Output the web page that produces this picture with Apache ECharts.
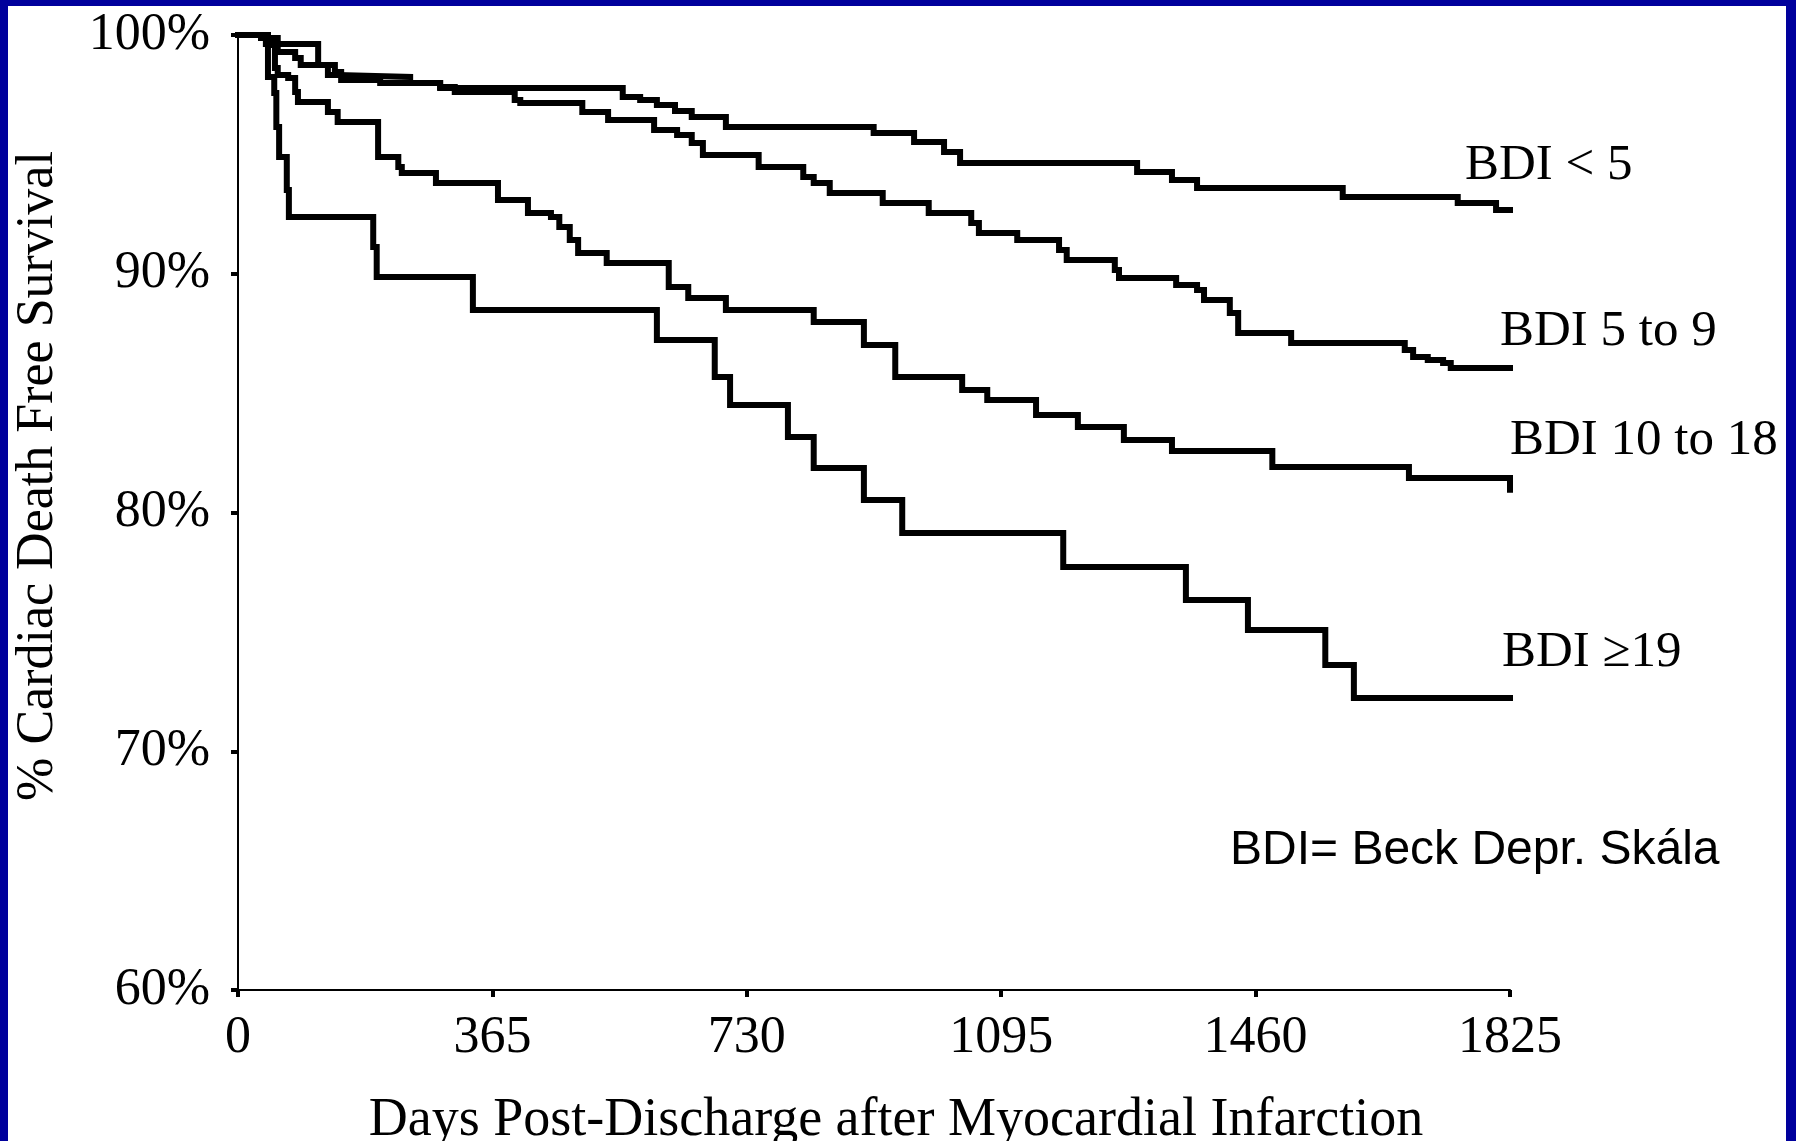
<!DOCTYPE html>
<html>
<head>
<meta charset="utf-8">
<script src="https://cdn.jsdelivr.net/npm/echarts@6/dist/echarts.min.js"></script>
<style>
  html, body { margin: 0; padding: 0; background: #00009C; width: 1796px; height: 1141px; overflow: hidden; }
  #chart { position: absolute; left: 8px; top: 6px; width: 1778px; height: 1135px; background: #fff; }
</style>
</head>
<body>
<div id="chart"></div>
<script>
// ---- Data ----
const xTicks = [0, 365, 730, 1095, 1460, 1825];
const yTicks = [60, 70, 80, 90, 100];

const seriesNames = ['BDI < 5', 'BDI 5 to 9', 'BDI 10 to 18', 'BDI \u226519'];

const daysLt5 = [0, 40, 115, 129, 143, 247, 290, 552, 577, 601, 627, 651, 700, 912, 970, 1013, 1036, 1290, 1340, 1376, 1585, 1750, 1805, 1825];
const survLt5 = [100, 99.62, 98.74, 98.32, 98.24, 97.99, 97.78, 97.40, 97.28, 97.07, 96.82, 96.57, 96.15, 95.90, 95.52, 95.10, 94.64, 94.26, 93.93, 93.59, 93.21, 92.96, 92.67, 92.67];

const days5to9 = [0, 33, 57, 82, 90, 139, 148, 204, 290, 311, 397, 405, 494, 531, 597, 630, 651, 667, 747, 811, 826, 849, 925, 991, 1052, 1063, 1118, 1178, 1189, 1258, 1264, 1346, 1376, 1386, 1423, 1435, 1511, 1674, 1686, 1707, 1729, 1740, 1825];
const surv5to9 = [100, 99.87, 99.29, 99.04, 98.74, 98.45, 98.12, 97.99, 97.82, 97.61, 97.28, 97.15, 96.77, 96.44, 96.02, 95.81, 95.48, 94.97, 94.47, 94.05, 93.80, 93.38, 92.96, 92.54, 92.13, 91.71, 91.41, 90.99, 90.58, 90.16, 89.82, 89.53, 89.32, 88.90, 88.36, 87.52, 87.10, 86.81, 86.51, 86.39, 86.26, 86.05, 86.05];

const days10to18 = [0, 43, 53, 57, 72, 82, 86, 129, 143, 201, 230, 235, 284, 373, 416, 449, 461, 476, 488, 529, 618, 646, 700, 826, 898, 943, 1039, 1075, 1145, 1205, 1271, 1340, 1484, 1680, 1825];
const surv10to18 = [100, 99.58, 98.62, 98.32, 98.20, 97.61, 97.19, 96.77, 96.36, 94.89, 94.47, 94.22, 93.80, 93.09, 92.54, 92.38, 91.96, 91.41, 90.87, 90.45, 89.45, 88.98, 88.48, 87.98, 87.02, 85.68, 85.13, 84.71, 84.08, 83.58, 83.04, 82.58, 81.91, 81.45, 80.95];

const daysGe19 = [0, 43, 52, 55, 59, 70, 73, 194, 199, 337, 601, 684, 706, 789, 826, 898, 953, 1184, 1360, 1449, 1560, 1601, 1825];
const survGe19 = [100, 98.24, 97.57, 96.15, 94.89, 93.51, 92.38, 91.12, 89.86, 88.48, 87.23, 85.68, 84.50, 83.16, 81.86, 80.52, 79.14, 77.72, 76.34, 75.08, 73.61, 72.23, 72.23];

const xTitle = 'Days Post-Discharge after Myocardial Infarction';
const yTitle = '% Cardiac Death Free Survival';
const noteText = 'BDI= Beck Depr. Sk\u00e1la';

// ---- Build ----
const zip = (a, b) => a.map((d, i) => [d, b[i]]);
const allDays = [daysLt5, days5to9, days10to18, daysGe19];
const allSurv = [survLt5, surv5to9, surv10to18, survGe19];

const serif = 'Liberation Serif, Times New Roman, serif';
const sans = 'Liberation Sans, Arial, sans-serif';

const series = seriesNames.map((name, i) => ({
  name: name,
  type: 'line',
  step: 'end',
  showSymbol: false,
  symbol: 'none',
  data: zip(allDays[i], allSurv[i]),
  lineStyle: { color: '#000', width: 6, cap: 'square', join: 'miter' },
  silent: true
}));

const labelPos = [
  { x: 1457, y: 160 },
  { x: 1492, y: 326 },
  { x: 1502, y: 435 },
  { x: 1494, y: 647 }
];

const graphic = seriesNames.map((name, i) => ({
  type: 'text',
  x: labelPos[i].x,
  y: labelPos[i].y,
  style: {
    text: name,
    fill: '#000',
    font: '51px ' + serif,
    textAlign: 'left',
    textVerticalAlign: 'middle'
  }
}));
graphic.push({
  type: 'text', x: 1222, y: 845,
  style: { text: noteText, fill: '#000', font: '48px ' + sans, textAlign: 'left', textVerticalAlign: 'middle' }
});
graphic.push({
  type: 'text', x: 888, y: 1115,
  style: { text: xTitle, fill: '#000', font: '54px ' + serif, textAlign: 'center', textVerticalAlign: 'middle' }
});
graphic.push({
  type: 'text', x: 30, y: 470, rotation: Math.PI / 2,
  style: { text: yTitle, fill: '#000', font: '52px ' + serif, textAlign: 'center', textVerticalAlign: 'middle' }
});

const chart = echarts.init(document.getElementById('chart'), null, { renderer: 'canvas' });
chart.setOption({
  animation: false,
  backgroundColor: '#ffffff',
  grid: { left: 230, top: 29, right: 276, bottom: 151, containLabel: false },
  xAxis: {
    type: 'value',
    min: xTicks[0],
    max: xTicks[xTicks.length - 1],
    interval: xTicks[1] - xTicks[0],
    axisLine: { show: true, onZero: false, lineStyle: { color: '#000', width: 2 } },
    axisTick: { show: true, inside: false, length: 7, lineStyle: { color: '#000', width: 4 } },
    axisLabel: { show: true, margin: 22, color: '#000', fontFamily: serif, fontSize: 52,
      formatter: v => String(v), showMinLabel: true, showMaxLabel: true, hideOverlap: false },
    splitLine: { show: false }
  },
  yAxis: {
    type: 'value',
    min: yTicks[0],
    max: yTicks[yTicks.length - 1],
    interval: yTicks[1] - yTicks[0],
    axisLine: { show: true, onZero: false, lineStyle: { color: '#000', width: 2 } },
    axisTick: { show: true, inside: false, length: 7, lineStyle: { color: '#000', width: 4 } },
    axisLabel: { show: true, margin: 28, color: '#000', fontFamily: serif, fontSize: 52,
      formatter: v => v + '%', showMinLabel: true, showMaxLabel: true, hideOverlap: false },
    splitLine: { show: false }
  },
  series: series,
  graphic: graphic
});
</script>
</body>
</html>
